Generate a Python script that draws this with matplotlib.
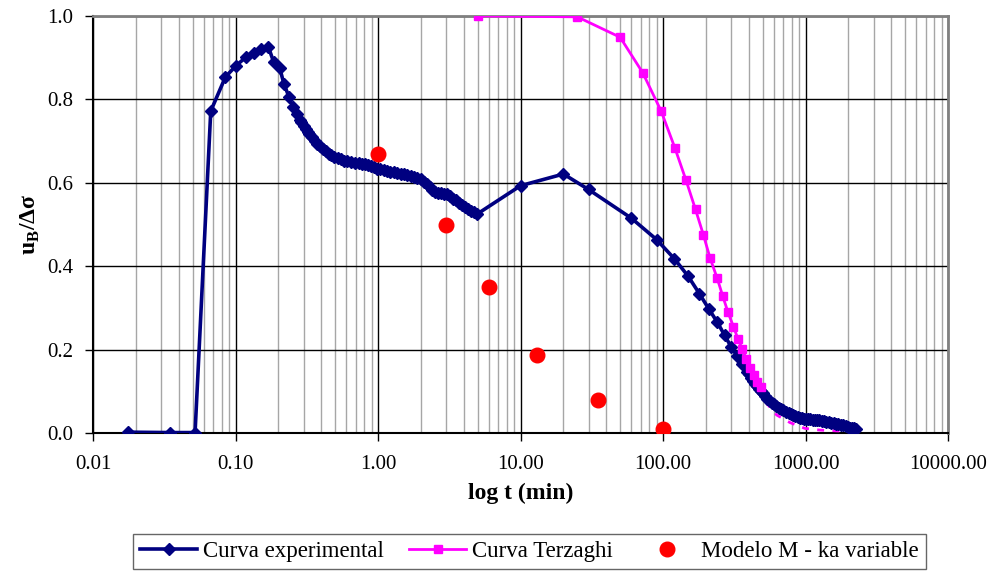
import matplotlib
matplotlib.use("Agg")
import matplotlib.pyplot as plt
from matplotlib.ticker import FixedLocator, LogLocator, NullFormatter, FixedFormatter

plt.rcParams['font.family'] = ['Liberation Serif', 'DejaVu Serif']
plt.rcParams['mathtext.fontset'] = 'custom'
plt.rcParams['mathtext.rm'] = 'Liberation Serif'
plt.rcParams['mathtext.bf'] = 'Liberation Serif:bold'

# Measured pore pressure ratio (experimental curve)
t_exp = [0.0175, 0.0348, 0.052, 0.067, 0.085, 0.101, 0.118, 0.135, 0.152, 0.170,
         0.185, 0.204, 0.219, 0.238, 0.252, 0.272,
         0.284, 0.29, 0.30, 0.31, 0.32, 0.33, 0.345, 0.36, 0.375, 0.39, 0.41, 0.43,
         0.45, 0.47, 0.49, 0.52, 0.55, 0.58, 0.61, 0.65, 0.69, 0.73, 0.77, 0.81,
         0.85, 0.89, 0.94, 0.99, 1.04, 1.10, 1.16, 1.22, 1.29, 1.36, 1.44, 1.52,
         1.60, 1.69, 1.78, 1.88, 1.99, 2.10, 2.21, 2.30, 2.40, 2.50, 2.62, 2.75,
         2.90, 3.05, 3.20, 3.35, 3.50, 3.70, 3.90, 4.10, 4.30, 4.50, 4.75, 4.96,
         10, 20, 30, 60, 90, 120, 150, 180, 210, 240, 270, 300, 330, 360, 390,
         400, 415, 430, 445, 460, 475, 490, 505, 520, 540, 560, 580, 600, 625,
         650, 675, 700, 730, 760, 790, 820, 850, 880, 910, 940, 970, 1000, 1040,
         1080, 1120, 1160, 1200, 1250, 1300, 1350, 1400, 1460, 1520, 1580, 1640,
         1700, 1770, 1840, 1910, 1980, 2050, 2120, 2200, 2260]
u_exp = [0.002, 0.001, 0.001, 0.772, 0.854, 0.881, 0.901, 0.911, 0.920, 0.926,
         0.890, 0.876, 0.836, 0.805, 0.782, 0.764,
         0.750, 0.745, 0.736, 0.729, 0.722, 0.716, 0.709, 0.700, 0.694, 0.689, 0.682, 0.676,
         0.670, 0.666, 0.663, 0.659, 0.656, 0.653, 0.652, 0.650, 0.648, 0.647, 0.646, 0.644,
         0.642, 0.640, 0.637, 0.634, 0.632, 0.630, 0.628, 0.627, 0.625, 0.624, 0.622, 0.620,
         0.618, 0.616, 0.613, 0.611, 0.608, 0.603, 0.598, 0.590, 0.583, 0.579, 0.576, 0.575,
         0.574, 0.572, 0.568, 0.562, 0.558, 0.552, 0.547, 0.542, 0.537, 0.533, 0.529, 0.525,
         0.593, 0.621, 0.584, 0.515, 0.464, 0.418, 0.376, 0.334, 0.297, 0.266, 0.235, 0.207,
         0.185, 0.165, 0.147,
         0.142, 0.133, 0.125, 0.118, 0.112, 0.106, 0.100, 0.095, 0.088, 0.082, 0.077, 0.073,
         0.069, 0.064, 0.061, 0.057, 0.054, 0.051, 0.048, 0.045, 0.043, 0.041, 0.039, 0.037,
         0.035, 0.034, 0.033, 0.034, 0.033, 0.032, 0.031, 0.031, 0.030, 0.029, 0.028, 0.027,
         0.026, 0.025, 0.023, 0.022, 0.021, 0.019, 0.018, 0.016, 0.015, 0.013, 0.012, 0.011,
         0.010]

# Terzaghi consolidation curve
t_terz = [5, 25, 50, 72, 97, 121, 145, 169, 192, 214, 240, 262, 286, 312, 336,
          360, 385, 405, 433, 455, 485]
u_terz = [1.000, 0.998, 0.949, 0.864, 0.772, 0.684, 0.606, 0.536, 0.475, 0.419,
          0.371, 0.329, 0.289, 0.255, 0.225, 0.201, 0.177, 0.157, 0.139, 0.123, 0.110]

# Terzaghi extension (dashed)
t_terz_ext = [485, 530, 628, 778, 991, 1260, 1660, 2000]
u_terz_ext = [0.110, 0.072, 0.043, 0.025, 0.011, 0.007, 0.005, 0.004]

# Model M with variable ka
t_mod = [1.0, 3.0, 6.0, 13.0, 35.0, 100.0]
u_mod = [0.669, 0.498, 0.350, 0.186, 0.079, 0.010]

x_ticks = [0.01, 0.1, 1, 10, 100, 1000, 10000]
x_ticklabels = ['0.01', '0.10', '1.00', '10.00', '100.00', '1000.00', '10000.00']
y_ticks = [0.0, 0.2, 0.4, 0.6, 0.8, 1.0]
y_ticklabels = ['0.0', '0.2', '0.4', '0.6', '0.8', '1.0']

fig = plt.figure(figsize=(9.95, 5.71), dpi=100)
ax = fig.add_axes([0.0935, 0.2417, 0.8593, 0.7303])

navy = '#000080'
magenta = '#FF00FF'

ax.plot(t_terz_ext, u_terz_ext, color=magenta, lw=2.0, ls=(0, (2.5, 3)), zorder=3)
ax.plot(t_exp, u_exp, color=navy, lw=2.6, marker='D', ms=5.8, mec=navy, mfc=navy,
        label='Curva experimental', zorder=4)
ax.plot(t_terz, u_terz, color=magenta, lw=2.0, marker='s', ms=5.5, mec=magenta, mfc=magenta,
        label='Curva Terzaghi', zorder=5)
ax.plot(t_mod, u_mod, ls='none', marker='o', ms=10.5, color='#FF0000',
        label='Modelo M - ka variable', zorder=6)

ax.set_xscale('log')
ax.set_xlim(0.01, 10000)
ax.set_ylim(0, 1.0)

ax.xaxis.set_major_locator(FixedLocator(x_ticks))
ax.xaxis.set_major_formatter(FixedFormatter(x_ticklabels))
ax.xaxis.set_minor_locator(LogLocator(base=10, subs=range(2, 10), numticks=100))
ax.xaxis.set_minor_formatter(NullFormatter())
ax.yaxis.set_major_locator(FixedLocator(y_ticks))
ax.yaxis.set_major_formatter(FixedFormatter(y_ticklabels))

ax.grid(which='minor', axis='x', color='#a6a6a6', lw=1.0, zorder=0)
ax.grid(which='major', axis='both', color='black', lw=1.0, zorder=1)
ax.set_axisbelow(True)

ax.tick_params(axis='both', which='major', direction='out', length=6, width=1,
               labelsize=15, colors='black')
ax.tick_params(axis='x', which='minor', length=0)
ax.tick_params(axis='x', pad=10)
ax.tick_params(axis='y', pad=8)

for side in ('left', 'bottom'):
    ax.spines[side].set_color('black')
    ax.spines[side].set_linewidth(1.5)
for side in ('top', 'right'):
    ax.spines[side].set_color('#808080')
    ax.spines[side].set_linewidth(2.0)

ax.set_xlabel('log t (min)', fontsize=17, fontweight='bold', labelpad=6)
ax.set_ylabel('u$_{\\mathbf{B}}$/Δσ', fontsize=17, fontweight='bold', labelpad=4)

leg = fig.legend(loc='center', bbox_to_anchor=(0.532, 0.0345), ncol=3, fontsize=16.5,
                 frameon=True, fancybox=False, edgecolor='#404040', handlelength=2.5,
                 handletextpad=0.25, columnspacing=1.1, borderpad=0.3, borderaxespad=0)
leg.get_frame().set_linewidth(1.0)

fig.savefig('out.png', dpi=100)
